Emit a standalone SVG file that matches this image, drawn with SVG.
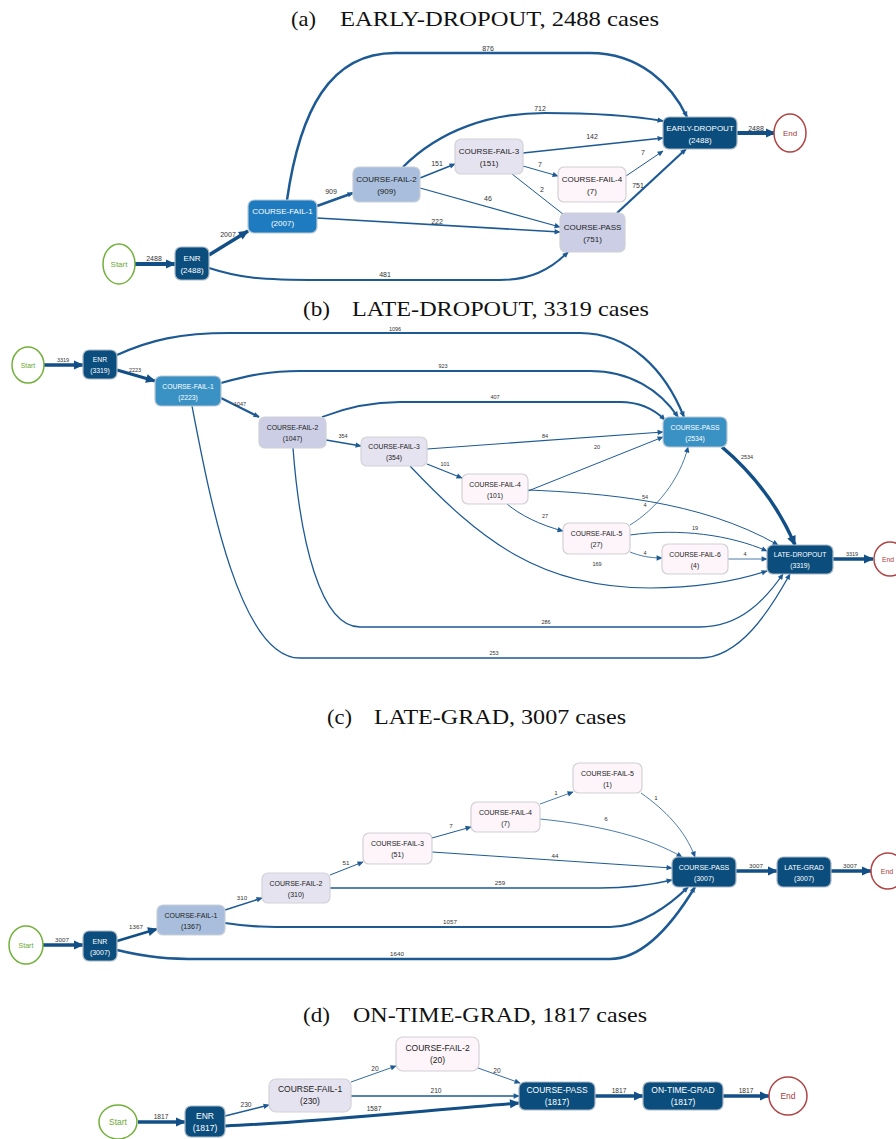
<svg xmlns="http://www.w3.org/2000/svg" width="896" height="1139" viewBox="0 0 896 1139">
<style>
.bg{fill:#fff}
.ttl{font-family:"Liberation Serif",serif;font-size:21px;fill:#111}
.e{fill:none;stroke:#1d5a94;marker-end:url(#m)}
.eb{fill:none;stroke:#124f86;marker-end:url(#mb)}
.l{font-family:"Liberation Sans",sans-serif;fill:#333;text-anchor:middle}
.la{font-size:7px}.lb{font-size:5.5px}.lc{font-size:6.2px}.ld{font-size:6.6px}
.n{font-family:"Liberation Sans",sans-serif;text-anchor:middle}
.na{font-size:8px}.nb{font-size:6.8px}.nc{font-size:7px}.ndd{font-size:8.5px}
.dk{fill:#0b4e7d;stroke:#a9b8c6;stroke-width:1.2}
.md{fill:#1f7bbf;stroke:#b9c7d4;stroke-width:1.2}
.mb2{fill:#3a92c4;stroke:#b9c7d4;stroke-width:1.2}
.lb1{fill:#a8bedc;stroke:#c9cfd8;stroke-width:1.2}
.lv{fill:#cbcee5;stroke:#cfd0d8;stroke-width:1.2}
.lv2{fill:#e6e3f1;stroke:#d2d2d8;stroke-width:1.2}
.pk{fill:#fdf5fa;stroke:#d2d0d4;stroke-width:1.2}
.w{fill:#fff}.k{fill:#222}
.st{fill:#fff;stroke:#72b03a;stroke-width:1.5}
.en{fill:#fff;stroke:#b04444;stroke-width:1.5}
.stt{fill:#6aa832}.ent{fill:#a83a3a}
</style>
<defs>
<marker id="m" viewBox="0 0 10 10" refX="9" refY="5" markerWidth="7" markerHeight="6" markerUnits="userSpaceOnUse" orient="auto"><path d="M0,0.5 L10,5 L0,9.5z" fill="#1d5a94"/></marker>
<marker id="mb" viewBox="0 0 10 10" refX="9" refY="5" markerWidth="11" markerHeight="10" markerUnits="userSpaceOnUse" orient="auto"><path d="M0,0.5 L10,5 L0,9.5z" fill="#124f86"/></marker>
</defs>
<rect class="bg" x="0" y="0" width="896" height="1139"/>

<g id="titles">
<text class="ttl" x="291" y="26" textLength="25" lengthAdjust="spacingAndGlyphs">(a)</text><text class="ttl" x="340" y="26" textLength="319" lengthAdjust="spacingAndGlyphs">EARLY-DROPOUT, 2488 cases</text>
<text class="ttl" x="303" y="316" textLength="27" lengthAdjust="spacingAndGlyphs">(b)</text><text class="ttl" x="352" y="316" textLength="297" lengthAdjust="spacingAndGlyphs">LATE-DROPOUT, 3319 cases</text>
<text class="ttl" x="327" y="724" textLength="25" lengthAdjust="spacingAndGlyphs">(c)</text><text class="ttl" x="374" y="724" textLength="252" lengthAdjust="spacingAndGlyphs">LATE-GRAD, 3007 cases</text>
<text class="ttl" x="303" y="1022" textLength="27" lengthAdjust="spacingAndGlyphs">(d)</text><text class="ttl" x="353" y="1022" textLength="294" lengthAdjust="spacingAndGlyphs">ON-TIME-GRAD, 1817 cases</text>
</g>

<g id="connectors">
<!-- panel a -->
<path class="eb" stroke-width="4" d="M135,264 L175,264"/>
<path class="eb" stroke-width="3.5" d="M209,255 L248,231"/>
<path class="e" stroke-width="2.5" d="M317,206 L353,193"/>
<path class="e" stroke-width="2.5" d="M287,200 C300,110 330,53 395,53 L590,53 C640,53 672,85 687,117"/>
<path class="e" stroke-width="2.2" d="M403,167 C440,130 490,113 545,113 C600,113 640,117 663,121"/>
<path class="e" stroke-width="1.5" d="M420,178 L455,164"/>
<path class="e" stroke-width="1.2" d="M420,188 L560,227"/>
<path class="e" stroke-width="1.5" d="M523,153 L663,138"/>
<path class="e" stroke-width="1" d="M523,166 L558,176"/>
<path class="e" stroke-width="1" d="M512,174 L568,218"/>
<path class="e" stroke-width="1" d="M626,176 L663,151"/>
<path class="e" stroke-width="2.2" d="M617,213 L686,149"/>
<path class="e" stroke-width="1.6" d="M317,218 L560,232"/>
<path class="e" stroke-width="2" d="M209,268 C240,278 260,280 320,280 L500,280 C530,280 550,270 568,252"/>
<path class="eb" stroke-width="4" d="M737,133 L775,133"/>
<g class="l la">
<text x="154" y="261">2488</text><text x="228" y="237">2007</text><text x="331" y="194">909</text>
<text x="488" y="51">876</text><text x="540" y="111">712</text><text x="437" y="166">151</text>
<text x="488" y="201">46</text><text x="592" y="139">142</text><text x="540" y="167">7</text>
<text x="542" y="192">2</text><text x="643" y="155">7</text><text x="638" y="188">751</text>
<text x="437" y="224">222</text><text x="385" y="277">481</text><text x="756" y="131">2488</text>
</g>
<!-- panel b -->
<path class="eb" stroke-width="3.5" d="M44,365 L83,365"/>
<path class="eb" stroke-width="3" d="M117,370 L155,381"/>
<path class="e" stroke-width="2.2" d="M117,355 C150,340 180,333 230,333 L580,333 C630,333 665,370 684,417"/>
<path class="e" stroke-width="2.2" d="M221,383 C250,375 270,371 300,371 L590,371 C630,371 660,390 678,417"/>
<path class="e" stroke-width="2.3" d="M221,398 L259,417"/>
<path class="e" stroke-width="1.3" d="M192,406 C210,500 240,658 300,658 L700,658 C740,658 770,610 790,574"/>
<path class="e" stroke-width="1.8" d="M322,417 C345,408 370,402 400,402 L620,402 C640,402 655,410 665,420"/>
<path class="e" stroke-width="1.5" d="M326,440 L361,446"/>
<path class="e" stroke-width="1.3" d="M293,448 C300,540 320,627 360,627 L700,627 C740,627 765,600 783,574"/>
<path class="e" stroke-width="1.2" d="M427,449 L663,432"/>
<path class="e" stroke-width="1.2" d="M427,464 L462,478"/>
<path class="e" stroke-width="1.2" d="M410,466 C480,540 540,588 650,588 C700,588 740,580 767,571"/>
<path class="e" stroke-width="1" d="M528,491 L663,437"/>
<path class="e" stroke-width="1" d="M528,490 C600,493 700,500 778,545"/>
<path class="e" stroke-width="1" d="M507,504 C520,515 540,525 563,531"/>
<path class="e" stroke-width="0.8" d="M630,525 C655,510 680,480 688,447"/>
<path class="e" stroke-width="1" d="M630,535 C680,528 730,535 767,551"/>
<path class="e" stroke-width="0.8" d="M630,552 C640,556 650,558 662,558"/>
<path class="e" stroke-width="0.8" d="M728,559 L767,559"/>
<path class="eb" stroke-width="3.5" d="M722,447 C755,475 780,510 795,545"/>
<path class="eb" stroke-width="3.5" d="M833,559 L873,559"/>
<g class="l lb">
<text x="63" y="362">3319</text><text x="135" y="372">2223</text><text x="395" y="331">1096</text>
<text x="443" y="368">923</text><text x="240" y="406">1047</text><text x="494" y="655">253</text>
<text x="495" y="399">407</text><text x="343" y="438">354</text><text x="546" y="624">286</text>
<text x="545" y="438">84</text><text x="445" y="466">101</text><text x="597" y="566">169</text>
<text x="597" y="449">20</text><text x="645" y="499">54</text><text x="545" y="518">27</text>
<text x="645" y="507">4</text><text x="695" y="530">19</text><text x="645" y="555">4</text>
<text x="745" y="556">4</text><text x="747" y="459">2534</text><text x="852" y="556">3319</text>
</g>
<!-- panel c -->
<path class="eb" stroke-width="3.5" d="M43,945 L83,945"/>
<path class="eb" stroke-width="2.5" d="M117,941 L157,929"/>
<path class="e" stroke-width="1.5" d="M225,910 L262,898"/>
<path class="e" stroke-width="1" d="M330,875 L363,862"/>
<path class="e" stroke-width="1" d="M432,838 L471,827"/>
<path class="e" stroke-width="0.8" d="M540,804 L573,792"/>
<path class="e" stroke-width="0.8" d="M641,793 C665,810 685,830 695,857"/>
<path class="e" stroke-width="0.8" d="M540,819 C600,825 650,838 682,857"/>
<path class="e" stroke-width="1" d="M432,852 L672,868"/>
<path class="e" stroke-width="1.3" d="M330,888 L600,888 C630,888 655,884 672,880"/>
<path class="e" stroke-width="2.2" d="M225,923 C250,927 270,927 300,927 L610,927 C640,927 670,905 688,887"/>
<path class="e" stroke-width="2.5" d="M117,950 C150,958 170,959 200,959 L610,959 C645,959 675,920 695,887"/>
<path class="eb" stroke-width="3.5" d="M736,871 L777,871"/>
<path class="eb" stroke-width="3.5" d="M831,871 L871,871"/>
<g class="l lc">
<text x="62" y="942">3007</text><text x="136" y="929">1367</text><text x="242" y="900">310</text>
<text x="346" y="865">51</text><text x="451" y="828">7</text><text x="556" y="795">1</text>
<text x="656" y="800">1</text><text x="606" y="821">6</text><text x="555" y="858">44</text>
<text x="500" y="885">259</text><text x="450" y="924">1057</text><text x="397" y="956">1640</text>
<text x="756" y="868">3007</text><text x="850" y="868">3007</text>
</g>
<!-- panel d -->
<path class="eb" stroke-width="3.5" d="M138,1122 L185,1122"/>
<path class="e" stroke-width="1.5" d="M225,1116 L269,1105"/>
<path class="e" stroke-width="0.9" d="M351,1082 L396,1066"/>
<path class="e" stroke-width="0.9" d="M478,1068 L520,1083"/>
<path class="e" stroke-width="1.3" d="M351,1096 L519,1096"/>
<path class="eb" stroke-width="3" d="M225,1126 C300,1123 420,1111 519,1103"/>
<path class="eb" stroke-width="3.5" d="M595,1096 L643,1096"/>
<path class="eb" stroke-width="3.5" d="M723,1096 L769,1096"/>
<g class="l ld">
<text x="161" y="1119">1817</text><text x="246" y="1107">230</text><text x="375" y="1071">20</text>
<text x="497" y="1073">20</text><text x="436" y="1093">210</text><text x="374" y="1111">1587</text>
<text x="619" y="1093">1817</text><text x="746" y="1093">1817</text>
</g>
</g>

<!-- panel a nodes -->
<g id="a-start"><ellipse class="st" cx="119" cy="264" rx="16" ry="20"/><text class="n na stt" x="119" y="267">Start</text></g>
<g id="a-enr"><rect class="dk" x="175" y="247" width="34" height="33" rx="6"/><text class="n na w" x="192" y="261">ENR</text><text class="n na w" x="192" y="273">(2488)</text></g>
<g id="a-cf1"><rect class="md" x="248" y="200" width="69" height="33" rx="6"/><text class="n na w" x="282.5" y="214">COURSE-FAIL-1</text><text class="n na w" x="282.5" y="226">(2007)</text></g>
<g id="a-cf2"><rect class="lb1" x="353" y="167" width="67" height="35" rx="6"/><text class="n na k" x="386.5" y="182">COURSE-FAIL-2</text><text class="n na k" x="386.5" y="194">(909)</text></g>
<g id="a-cf3"><rect class="lv2" x="455" y="139" width="68" height="35" rx="6"/><text class="n na k" x="489" y="154">COURSE-FAIL-3</text><text class="n na k" x="489" y="166">(151)</text></g>
<g id="a-cf4"><rect class="pk" x="558" y="167" width="68" height="35" rx="6"/><text class="n na k" x="592" y="182">COURSE-FAIL-4</text><text class="n na k" x="592" y="194">(7)</text></g>
<g id="a-cp"><rect class="lv" x="560" y="213" width="65" height="39" rx="6"/><text class="n na k" x="592.5" y="230">COURSE-PASS</text><text class="n na k" x="592.5" y="242">(751)</text></g>
<g id="a-ed"><rect class="dk" x="663" y="117" width="74" height="32" rx="6"/><text class="n na w" x="700" y="131">EARLY-DROPOUT</text><text class="n na w" x="700" y="143">(2488)</text></g>
<g id="a-end"><ellipse class="en" cx="790" cy="133" rx="16" ry="19"/><text class="n na ent" x="790" y="136">End</text></g>

<!-- panel b nodes -->
<g id="b-start"><ellipse class="st" cx="28" cy="365" rx="16" ry="18"/><text class="n nb stt" x="28" y="367.5">Start</text></g>
<g id="b-enr"><rect class="dk" x="83" y="350" width="34" height="29" rx="6"/><text class="n nb w" x="100" y="362">ENR</text><text class="n nb w" x="100" y="373">(3319)</text></g>
<g id="b-cf1"><rect class="mb2" x="155" y="376" width="66" height="30" rx="6"/><text class="n nb w" x="188" y="388.5">COURSE-FAIL-1</text><text class="n nb w" x="188" y="399.5">(2223)</text></g>
<g id="b-cf2"><rect class="lv" x="259" y="417" width="67" height="31" rx="6"/><text class="n nb k" x="292.5" y="430">COURSE-FAIL-2</text><text class="n nb k" x="292.5" y="441">(1047)</text></g>
<g id="b-cf3"><rect class="lv2" x="361" y="437" width="66" height="29" rx="6"/><text class="n nb k" x="394" y="449">COURSE-FAIL-3</text><text class="n nb k" x="394" y="460">(354)</text></g>
<g id="b-cf4"><rect class="pk" x="462" y="474" width="66" height="30" rx="6"/><text class="n nb k" x="495" y="486.5">COURSE-FAIL-4</text><text class="n nb k" x="495" y="497.5">(101)</text></g>
<g id="b-cf5"><rect class="pk" x="563" y="523" width="67" height="31" rx="6"/><text class="n nb k" x="596.5" y="536">COURSE-FAIL-5</text><text class="n nb k" x="596.5" y="547">(27)</text></g>
<g id="b-cf6"><rect class="pk" x="662" y="544" width="66" height="30" rx="6"/><text class="n nb k" x="695" y="556.5">COURSE-FAIL-6</text><text class="n nb k" x="695" y="567.5">(4)</text></g>
<g id="b-cp"><rect class="mb2" x="663" y="417" width="64" height="30" rx="6"/><text class="n nb w" x="695" y="429.5">COURSE-PASS</text><text class="n nb w" x="695" y="440.5">(2534)</text></g>
<g id="b-ld"><rect class="dk" x="767" y="545" width="66" height="29" rx="6"/><text class="n nb w" x="800" y="557">LATE-DROPOUT</text><text class="n nb w" x="800" y="568">(3319)</text></g>
<g id="b-end"><ellipse class="en" cx="890" cy="559" rx="16" ry="17"/><text class="n nb ent" x="888" y="561.5">End</text></g>

<!-- panel c nodes -->
<g id="c-start"><ellipse class="st" cx="26" cy="945" rx="17" ry="19"/><text class="n nc stt" x="26" y="947.5">Start</text></g>
<g id="c-enr"><rect class="dk" x="83" y="931" width="34" height="30" rx="6"/><text class="n nc w" x="100" y="943.5">ENR</text><text class="n nc w" x="100" y="954.5">(3007)</text></g>
<g id="c-cf1"><rect class="lb1" x="157" y="905" width="68" height="30" rx="6"/><text class="n nc k" x="191" y="917.5">COURSE-FAIL-1</text><text class="n nc k" x="191" y="928.5">(1367)</text></g>
<g id="c-cf2"><rect class="lv2" x="262" y="873" width="68" height="30" rx="6"/><text class="n nc k" x="296" y="885.5">COURSE-FAIL-2</text><text class="n nc k" x="296" y="896.5">(310)</text></g>
<g id="c-cf3"><rect class="pk" x="363" y="833" width="69" height="31" rx="6"/><text class="n nc k" x="397.5" y="846">COURSE-FAIL-3</text><text class="n nc k" x="397.5" y="857">(51)</text></g>
<g id="c-cf4"><rect class="pk" x="471" y="802" width="69" height="30" rx="6"/><text class="n nc k" x="505.5" y="814.5">COURSE-FAIL-4</text><text class="n nc k" x="505.5" y="825.5">(7)</text></g>
<g id="c-cf5"><rect class="pk" x="573" y="763" width="69" height="30" rx="6"/><text class="n nc k" x="607.5" y="775.5">COURSE-FAIL-5</text><text class="n nc k" x="607.5" y="786.5">(1)</text></g>
<g id="c-cp"><rect class="dk" x="672" y="857" width="64" height="30" rx="6"/><text class="n nc w" x="704" y="869.5">COURSE-PASS</text><text class="n nc w" x="704" y="880.5">(3007)</text></g>
<g id="c-lg"><rect class="dk" x="777" y="857" width="54" height="30" rx="6"/><text class="n nc w" x="804" y="869.5">LATE-GRAD</text><text class="n nc w" x="804" y="880.5">(3007)</text></g>
<g id="c-end"><ellipse class="en" cx="888" cy="871" rx="17" ry="18"/><text class="n nc ent" x="887" y="873.5">End</text></g>

<!-- panel d nodes -->
<g id="d-start"><ellipse class="st" cx="118" cy="1122" rx="19" ry="17"/><text class="n ndd stt" x="118" y="1125">Start</text></g>
<g id="d-enr"><rect class="dk" x="185" y="1106" width="40" height="31" rx="6"/><text class="n ndd w" x="205" y="1119">ENR</text><text class="n ndd w" x="205" y="1131">(1817)</text></g>
<g id="d-cf1"><rect class="lv2" x="269" y="1079" width="82" height="33" rx="7"/><text class="n ndd k" x="310" y="1092">COURSE-FAIL-1</text><text class="n ndd k" x="310" y="1104">(230)</text></g>
<g id="d-cf2"><rect class="pk" x="396" y="1037" width="83" height="34" rx="7"/><text class="n ndd k" x="437.5" y="1051">COURSE-FAIL-2</text><text class="n ndd k" x="437.5" y="1063">(20)</text></g>
<g id="d-cp"><rect class="dk" x="519" y="1082" width="76" height="28" rx="6"/><text class="n ndd w" x="557" y="1093">COURSE-PASS</text><text class="n ndd w" x="557" y="1105">(1817)</text></g>
<g id="d-otg"><rect class="dk" x="643" y="1082" width="80" height="28" rx="6"/><text class="n ndd w" x="683" y="1093">ON-TIME-GRAD</text><text class="n ndd w" x="683" y="1105">(1817)</text></g>
<g id="d-end"><ellipse class="en" cx="788" cy="1096" rx="19" ry="19"/><text class="n ndd ent" x="788" y="1099">End</text></g>
</svg>
